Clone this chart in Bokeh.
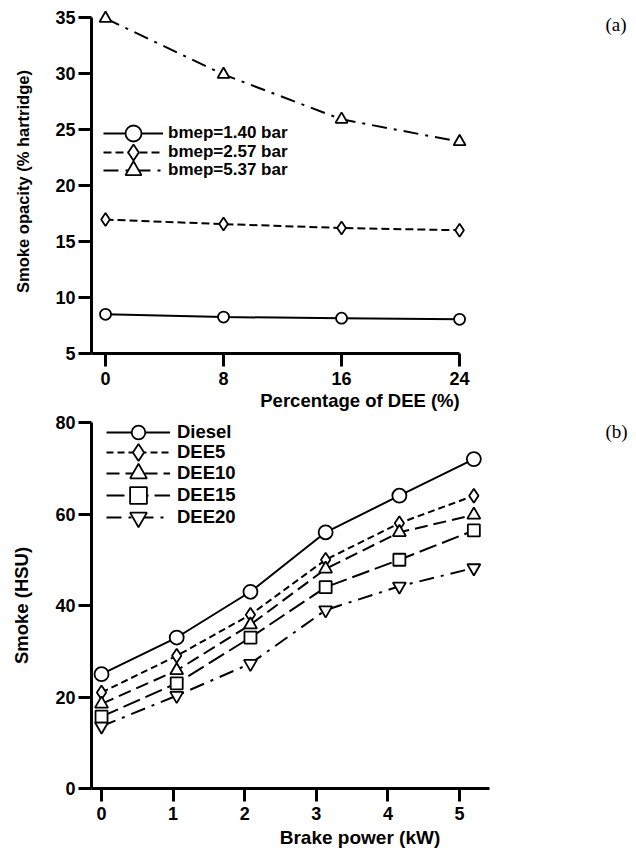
from bokeh.plotting import figure
from bokeh.models import Legend, LegendItem, Label, Range1d, FixedTicker
from bokeh.layouts import column
from bokeh.embed import file_html
from bokeh.resources import INLINE

# ---- panel (a) data ----
dee_pct = [0, 8, 16, 24]
bmep_140 = [8.5, 8.25, 8.15, 8.05]
bmep_257 = [16.95, 16.55, 16.2, 16.0]
bmep_537 = [34.9, 29.9, 25.9, 23.9]
a_yticks = [5, 10, 15, 20, 25, 30, 35]
a_xticks = [0, 8, 16, 24]

# ---- panel (b) data ----
brake_power = [0, 1.05, 2.08, 3.13, 4.16, 5.2]
diesel = [25, 33, 43, 56, 64, 72]
dee5 = [21, 29, 38, 50, 58, 64]
dee10 = [18.5, 25.8, 35.8, 48, 56, 59.8]
dee15 = [15.7, 23, 33, 44, 50, 56.4]
dee20 = [13.6, 20.3, 27.3, 39, 44.2, 48.2]
b_yticks = [0, 20, 40, 60, 80]
b_xticks = [0, 1, 2, 3, 4, 5]

FONT = "Liberation Sans"


def style_axes(p, xticks, yticks, tick_size, xlabel_size, ylabel_size):
    for ax in (p.xaxis[0], p.yaxis[0]):
        ax.axis_line_width = 3
        ax.axis_line_color = "black"
        ax.major_tick_line_width = 3
        ax.major_tick_line_color = "black"
        ax.major_tick_out = 13
        ax.major_tick_in = 0
        ax.minor_tick_line_color = None
        ax.major_label_text_font = FONT
        ax.major_label_text_font_style = "bold"
        ax.major_label_text_font_size = tick_size
        ax.major_label_text_color = "black"
        ax.axis_label_text_font = FONT
        ax.axis_label_text_font_style = "bold"
        ax.axis_label_text_color = "black"
    p.xaxis[0].axis_label_text_font_size = xlabel_size
    p.yaxis[0].axis_label_text_font_size = ylabel_size
    p.xaxis[0].ticker = FixedTicker(ticks=xticks)
    p.yaxis[0].ticker = FixedTicker(ticks=yticks)
    p.xaxis[0].major_label_standoff = 5
    p.yaxis[0].major_label_standoff = 3
    p.xaxis[0].axis_label_standoff = 2
    p.yaxis[0].axis_label_standoff = 20
    p.xgrid.visible = False
    p.ygrid.visible = False
    p.outline_line_color = None
    p.background_fill_color = "white"
    p.border_fill_color = "white"


def legend_rows(p, items, x, bottoms, heights, gw, standoff, fsize):
    for item, b, gh in zip(items, bottoms, heights):
        leg = Legend(items=[item], location=(x, b), glyph_width=gw, glyph_height=gh,
                     label_height=gh, spacing=0, label_standoff=standoff,
                     padding=0, margin=0,
                     border_line_alpha=0, background_fill_alpha=0,
                     label_text_font=FONT, label_text_font_style="bold",
                     label_text_font_size=fsize, label_text_color="black")
        p.add_layout(leg)


# ================= panel (a) =================
p1 = figure(frame_width=537, frame_height=344,
            min_border_left=91, min_border_right=4,
            min_border_top=9, min_border_bottom=61,
            x_range=Range1d(-0.95, 35.45), y_range=Range1d(5, 35.7),
            output_backend="svg", toolbar_location=None)
style_axes(p1, a_xticks, a_yticks, "18px", "18.5px", "16.5px")
p1.xaxis[0].axis_label = "Percentage of DEE (%)"
p1.yaxis[0].axis_label = "Smoke opacity (% hartridge)"
p1.xaxis[0].bounds = (-0.95, 24)
p1.yaxis[0].bounds = (5, 35)

a_series = [
    ("bmep=1.40 bar", bmep_140, "solid", "circle", 11),
    ("bmep=2.57 bar", bmep_257, "8 4", "diamond", 13),
    ("bmep=5.37 bar", bmep_537, "15 7 3 7", "triangle", 12),
]
a_items = []
for label, ys, dash, marker, size in a_series:
    rl = p1.line(dee_pct, ys, line_color="black", line_width=2, line_dash=dash)
    rm = p1.scatter(dee_pct, ys, marker=marker, size=size, fill_color="white",
                    line_color="black", line_width=1.8)
    a_items.append(LegendItem(label=label, renderers=[rl, rm]))

legend_rows(p1, a_items, 12, [200, 181, 163], [40, 40, 40], 60, 5, "17px")
p1.add_layout(Label(x=514, y=329, x_units="screen", y_units="screen", text="(a)",
                    text_font="Liberation Serif", text_font_size="19px",
                    text_align="left", text_baseline="middle", text_color="black"))

# ================= panel (b) =================
p2 = figure(frame_width=537, frame_height=366,
            min_border_left=91, min_border_right=4,
            min_border_top=8, min_border_bottom=63,
            x_range=Range1d(-0.14, 7.36), y_range=Range1d(0, 80),
            output_backend="svg", toolbar_location=None)
style_axes(p2, b_xticks, b_yticks, "18px", "19px", "18.5px")
p2.xaxis[0].axis_label = "Brake power (kW)"
p2.yaxis[0].axis_label = "Smoke (HSU)"
p2.xaxis[0].bounds = (-0.14, 5.42)
p2.xaxis[0].axis_label_standoff = 4

b_series = [
    ("Diesel", diesel, "solid", "circle", 14),
    ("DEE5", dee5, "7 4", "diamond", 14),
    ("DEE10", dee10, "13 6", "triangle", 13),
    ("DEE15", dee15, "18 6", "square", 12),
    ("DEE20", dee20, "15 7 3 7", "inverted_triangle", 13),
]
b_items = []
for label, ys, dash, marker, size in b_series:
    rl = p2.line(brake_power, ys, line_color="black", line_width=2, line_dash=dash)
    rm = p2.scatter(brake_power, ys, marker=marker, size=size, fill_color="white",
                    line_color="black", line_width=1.8)
    b_items.append(LegendItem(label=label, renderers=[rl, rm]))

legend_rows(p2, b_items, 15, [339, 315, 294, 272, 250], [34, 42, 42, 42, 42],
            64, 7, "18.5px")
p2.add_layout(Label(x=514, y=357, x_units="screen", y_units="screen", text="(b)",
                    text_font="Liberation Serif", text_font_size="19px",
                    text_align="left", text_baseline="middle", text_color="black"))

layout = column(p1, p2)
open("out.html", "w").write(file_html(layout, INLINE))
